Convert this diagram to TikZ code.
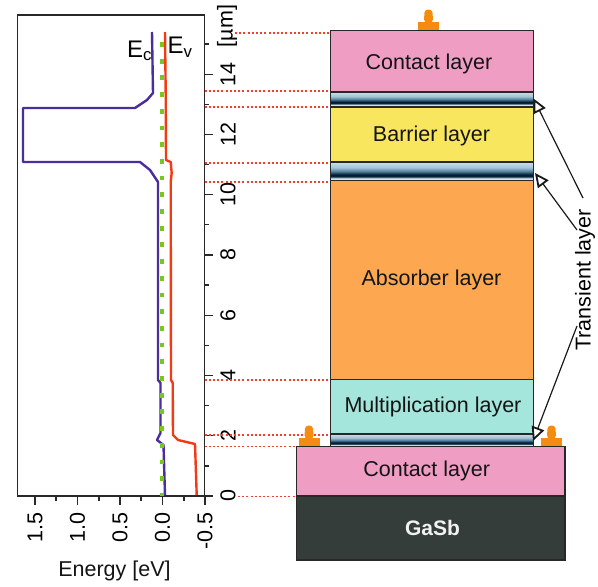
\documentclass[tikz,border=0pt]{standalone}
\usepackage{fontspec}
\usepackage{tikz}
\usetikzlibrary{arrows.meta}
\setmainfont{Liberation Sans}
\definecolor{contactpink}{RGB}{240,157,196}
\definecolor{barrieryellow}{RGB}{247,230,94}
\definecolor{absorberorange}{RGB}{253,168,80}
\definecolor{multiteal}{RGB}{165,230,220}
\definecolor{gasbdark}{RGB}{53,61,59}
\definecolor{padorange}{RGB}{246,139,18}
\definecolor{ecpurple}{RGB}{75,46,158}
\definecolor{evred}{RGB}{242,58,20}
\definecolor{fermigreen}{RGB}{118,200,30}
\definecolor{guidered}{RGB}{240,64,47}
\definecolor{edgegrey}{RGB}{40,40,40}
\definecolor{transa}{RGB}{228,236,236}
\definecolor{transb}{RGB}{205,222,228}
\definecolor{transc}{RGB}{8,36,62}
\definecolor{transd}{RGB}{4,28,50}
\definecolor{transe}{RGB}{80,130,160}
\definecolor{transf}{RGB}{165,196,212}
\definecolor{transg}{RGB}{205,222,232}
\pgfdeclareverticalshading{transientshade}{100bp}{
color(0bp)=(transa);
color(25bp)=(transa);
color(31bp)=(transb);
color(36bp)=(transc);
color(41bp)=(transd);
color(50bp)=(transe);
color(60bp)=(transf);
color(75bp)=(transg);
color(100bp)=(transg)}
\tikzset{
  layerbox/.style={draw=edgegrey,line width=1.2pt},
  layertext/.style={anchor=base,inner sep=0pt,text=black!92,font=\fontsize{21.5}{26}\selectfont},
  axistext/.style={inner sep=0pt,rotate=90,text=black,font=\fontsize{21.5}{26}\selectfont},
  guide/.style={guidered,line width=1.5pt,dash pattern=on 2pt off 2.2pt},
  axisline/.style={edgegrey,line width=1.3pt},
  band/.style={line width=2.4pt,line join=round},
  pointer/.style={line width=1.2pt,black!90,-{Triangle[open,length=14pt,width=13pt,line width=1.8pt]}}
}

\begin{document}
\begin{tikzpicture}[x=1pt,y=-1pt]
\useasboundingbox (0,0) rectangle (598,587);

\draw[axisline] (17.5,15) rectangle (204.5,496);
\foreach \val in {0,2,...,14}
{
  \draw[axisline] (204.5,{496-30.13*\val}) -- (213,{496-30.13*\val});
  \node[axistext] (ylabel\val) at (228,{496-30.13*\val}) {\val};
}
\foreach \val in {1,3,...,15}
  \draw[axisline] (204.5,{496-30.13*\val}) -- (208.5,{496-30.13*\val});
\foreach \px/\txt in {35/1.5,77.5/1.0,120/0.5,162.5/0.0,205/-0.5}
{
  \draw[axisline] (\px,496) -- (\px,504.5);
  \node[axistext,anchor=east] (xlabel\px) at (\px,512) {\txt};
}
\foreach \px in {56,99,141,184}
  \draw[axisline] (\px,496) -- (\px,500.5);
\node[axistext] (unit) at (227,26) {[µm]};
\node[layertext] (energy) at (114.5,576.5) {Energy [eV]};

\draw[band,ecpurple] (152,32) -- (153,93) -- (147,100) -- (135,108) -- (23,108) -- (23,162) -- (140,162) -- (150,170) -- (158,182) -- (158,380) -- (160.5,383) -- (160.5,433) -- (157,440) -- (163.5,445) -- (165,495);
\draw[band,evred] (165,32) -- (165.7,93) -- (166,160) -- (170.7,162) -- (171.7,173) -- (170.7,182) -- (171,380) -- (172.7,383) -- (173,435) -- (178,440) -- (195,444) -- (196.7,495);
\draw[fermigreen,line width=3.4pt,dash pattern=on 4.8pt off 11.9pt] (162,42) -- (162,496);
\node[layertext,text=black,font=\fontsize{24}{28}\selectfont] (ec) at (139.5,57) {E\textsubscript{c}};
\node[layertext,text=black,font=\fontsize{24}{28}\selectfont] (ev) at (180,53.5) {E\textsubscript{v}};

\draw[guide] (235,33) -- (330,33);
\foreach \yy in {91,107,163,182,380,435}
  \draw[guide] (204.5,\yy) -- (330,\yy);
\draw[guide] (204.5,446.5) -- (296,446.5);
\draw[guide] (238,496.5) -- (296,496.5);

\draw[layerbox,fill=contactpink] (330.5,30.5) rectangle (533.5,91.5);
\shadedraw[layerbox,shading=transientshade] (330.5,92) rectangle (533.5,106.5);
\draw[layerbox,fill=barrieryellow] (330.5,107) rectangle (533.5,161.5);
\shadedraw[layerbox,shading=transientshade] (330.5,162) rectangle (533.5,180.5);
\draw[layerbox,fill=absorberorange] (330.5,180.5) rectangle (533.5,379.5);
\draw[layerbox,fill=multiteal] (330.5,379.5) rectangle (533.5,434);
\shadedraw[layerbox,shading=transientshade] (330.5,434) rectangle (533.5,446.5);
\draw[layerbox,fill=contactpink] (296.5,446.5) rectangle (565,496);
\draw[layerbox,fill=gasbdark] (296.5,496) rectangle (565,560);

\node[layertext] (topcontact) at (429,69) {Contact layer};
\node[layertext] (barrier) at (431.5,141.7) {Barrier layer};
\node[layertext] (absorber) at (431.5,285) {Absorber layer};
\node[layertext] (multi) at (433,412.3) {Multiplication layer};
\node[layertext] (bottomcontact) at (426.7,476.7) {Contact layer};
\node[layertext,text=white!95!black,font=\fontsize{21}{25}\selectfont\bfseries] (gasb) at (432.5,535) {GaSb};

\foreach \cx/\cy in {428.5/30,309/446,551.5/446}
{
  \fill[padorange] ({\cx-10.5},\cy) rectangle ({\cx+10.5},{\cy-8});
  \fill[padorange,rounded corners=3.5pt] ({\cx-4.5},{\cy-7}) -- ({\cx-4},{\cy-20.5}) -- ({\cx+4},{\cy-20.5}) -- ({\cx+4.5},{\cy-7}) -- cycle;
}

\node[axistext] (transient) at (585,280) {Transient layer};
\coordinate (pointera) at (583,198);
\coordinate (pointerb) at (577,230);
\coordinate (pointerc) at (577,326);
\coordinate (tipa) at (533.5,98.5);
\coordinate (tipb) at (535,173);
\coordinate (tipc) at (533,441);
\draw[pointer] (pointera) -- (tipa);
\draw[pointer] (pointerb) -- (tipb);
\draw[pointer] (pointerc) -- (tipc);
\end{tikzpicture}
\end{document}
